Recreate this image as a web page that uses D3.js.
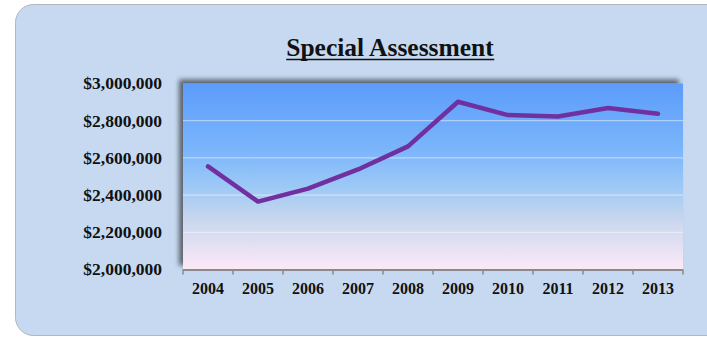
<!DOCTYPE html>
<html><head><meta charset="utf-8">
<script src="https://cdn.jsdelivr.net/npm/d3@7"></script>
<style>html,body{margin:0;padding:0;background:#fff;overflow:hidden}</style>
</head><body>
<svg id="chart" width="707" height="337"></svg>
<script>
const years = ["2004","2005","2006","2007","2008","2009","2010","2011","2012","2013"];
const values = [2554000, 2365000, 2435000, 2538000, 2662000, 2902000, 2830000, 2823000, 2868000, 2837000];
const yTicks = [2000000, 2200000, 2400000, 2600000, 2800000, 3000000];
const title = "Special Assessment";

const svg = d3.select("#chart");
const defs = svg.append("defs");

const grad = defs.append("linearGradient").attr("id","plotGrad").attr("x1",0).attr("y1",0).attr("x2",0).attr("y2",1);
[["0%","#5c9cfb"],["35%","#7ab5fb"],["55%","#9cc8f6"],["72%","#c6d6ee"],["100%","#fde9f7"]]
  .forEach(([o,c])=>grad.append("stop").attr("offset",o).attr("stop-color",c));

const sh = defs.append("filter").attr("id","shadow").attr("x","-10%").attr("y","-10%").attr("width","120%").attr("height","120%");
sh.append("feGaussianBlur").attr("in","SourceAlpha").attr("stdDeviation",2.5).attr("result","b");
sh.append("feOffset").attr("in","b").attr("dx",-4).attr("dy",-4).attr("result","o");
sh.append("feComponentTransfer").attr("in","o").attr("result","o2")
  .append("feFuncA").attr("type","linear").attr("slope",0.55);
const m = sh.append("feMerge");
m.append("feMergeNode").attr("in","o2");
m.append("feMergeNode").attr("in","SourceGraphic");

// card
svg.append("rect").attr("x",15.5).attr("y",4.5).attr("width",760).attr("height",331)
  .attr("rx",18).attr("fill","#c6d9f0").attr("stroke","#b3b6bb").attr("stroke-width",1);

const L = 183, R = 683, T = 83.5, B = 269.5;
const x = d3.scaleBand().domain(years).range([L,R]).padding(0);
const y = d3.scaleLinear().domain([2000000,3000000]).range([B,T]);

// plot area
svg.append("rect").attr("x",L).attr("y",T).attr("width",R-L).attr("height",B-T)
  .attr("fill","url(#plotGrad)").attr("filter","url(#shadow)");

// gridlines
svg.append("g").selectAll("line").data(yTicks.filter(v=>v>2000000 && v<3000000)).join("line")
  .attr("x1",L).attr("x2",R).attr("y1",d=>y(d)).attr("y2",d=>y(d))
  .attr("stroke","rgba(255,255,255,0.55)").attr("stroke-width",1);

// y labels
const fmt = d => "$" + d3.format(",")(d);
svg.append("g").selectAll("text").data(yTicks).join("text")
  .attr("x",162).attr("y",d=>y(d)).attr("dy","0.34em").attr("text-anchor","end")
  .attr("font-family","'Liberation Serif', serif").attr("font-weight","bold")
  .attr("font-size",17.5).attr("fill","#111").text(fmt);

// x axis
const xAxis = d3.axisBottom(x).tickSize(0).tickPadding(0);
const gx = svg.append("g").attr("transform",`translate(0,${B})`).call(xAxis);
gx.select(".domain").remove();
gx.selectAll("text").attr("y",19).attr("dy","0.34em")
  .attr("font-family","'Liberation Serif', serif").attr("font-weight","bold")
  .attr("font-size",16).attr("fill","#111");
svg.append("line").attr("x1",L).attr("x2",R).attr("y1",B+0.5).attr("y2",B+0.5)
  .attr("stroke","#8a8a8a").attr("stroke-width",2);
const edges = years.map(d=>x(d)).concat([R]);
svg.append("g").selectAll("line").data(edges).join("line")
  .attr("x1",d=>d).attr("x2",d=>d).attr("y1",B).attr("y2",B+5)
  .attr("stroke","#8a8a8a").attr("stroke-width",1.5);

// line
const line = d3.line().x((d,i)=>x(years[i])+x.bandwidth()/2).y(d=>y(d));
svg.append("path").datum(values).attr("d",line).attr("fill","none")
  .attr("stroke","#7030a0").attr("stroke-width",4.5).attr("stroke-linejoin","round").attr("stroke-linecap","round");

// title
const t = svg.append("text").attr("x",390).attr("y",56).attr("text-anchor","middle")
  .attr("font-family","'Liberation Serif', serif").attr("font-weight","bold")
  .attr("font-size",25.5).attr("fill","#111").text(title);
const bb = t.node().getBBox();
svg.append("line").attr("x1",bb.x).attr("x2",bb.x+bb.width).attr("y1",59.5).attr("y2",59.5)
  .attr("stroke","#111").attr("stroke-width",1.5);
</script>
</body></html>
